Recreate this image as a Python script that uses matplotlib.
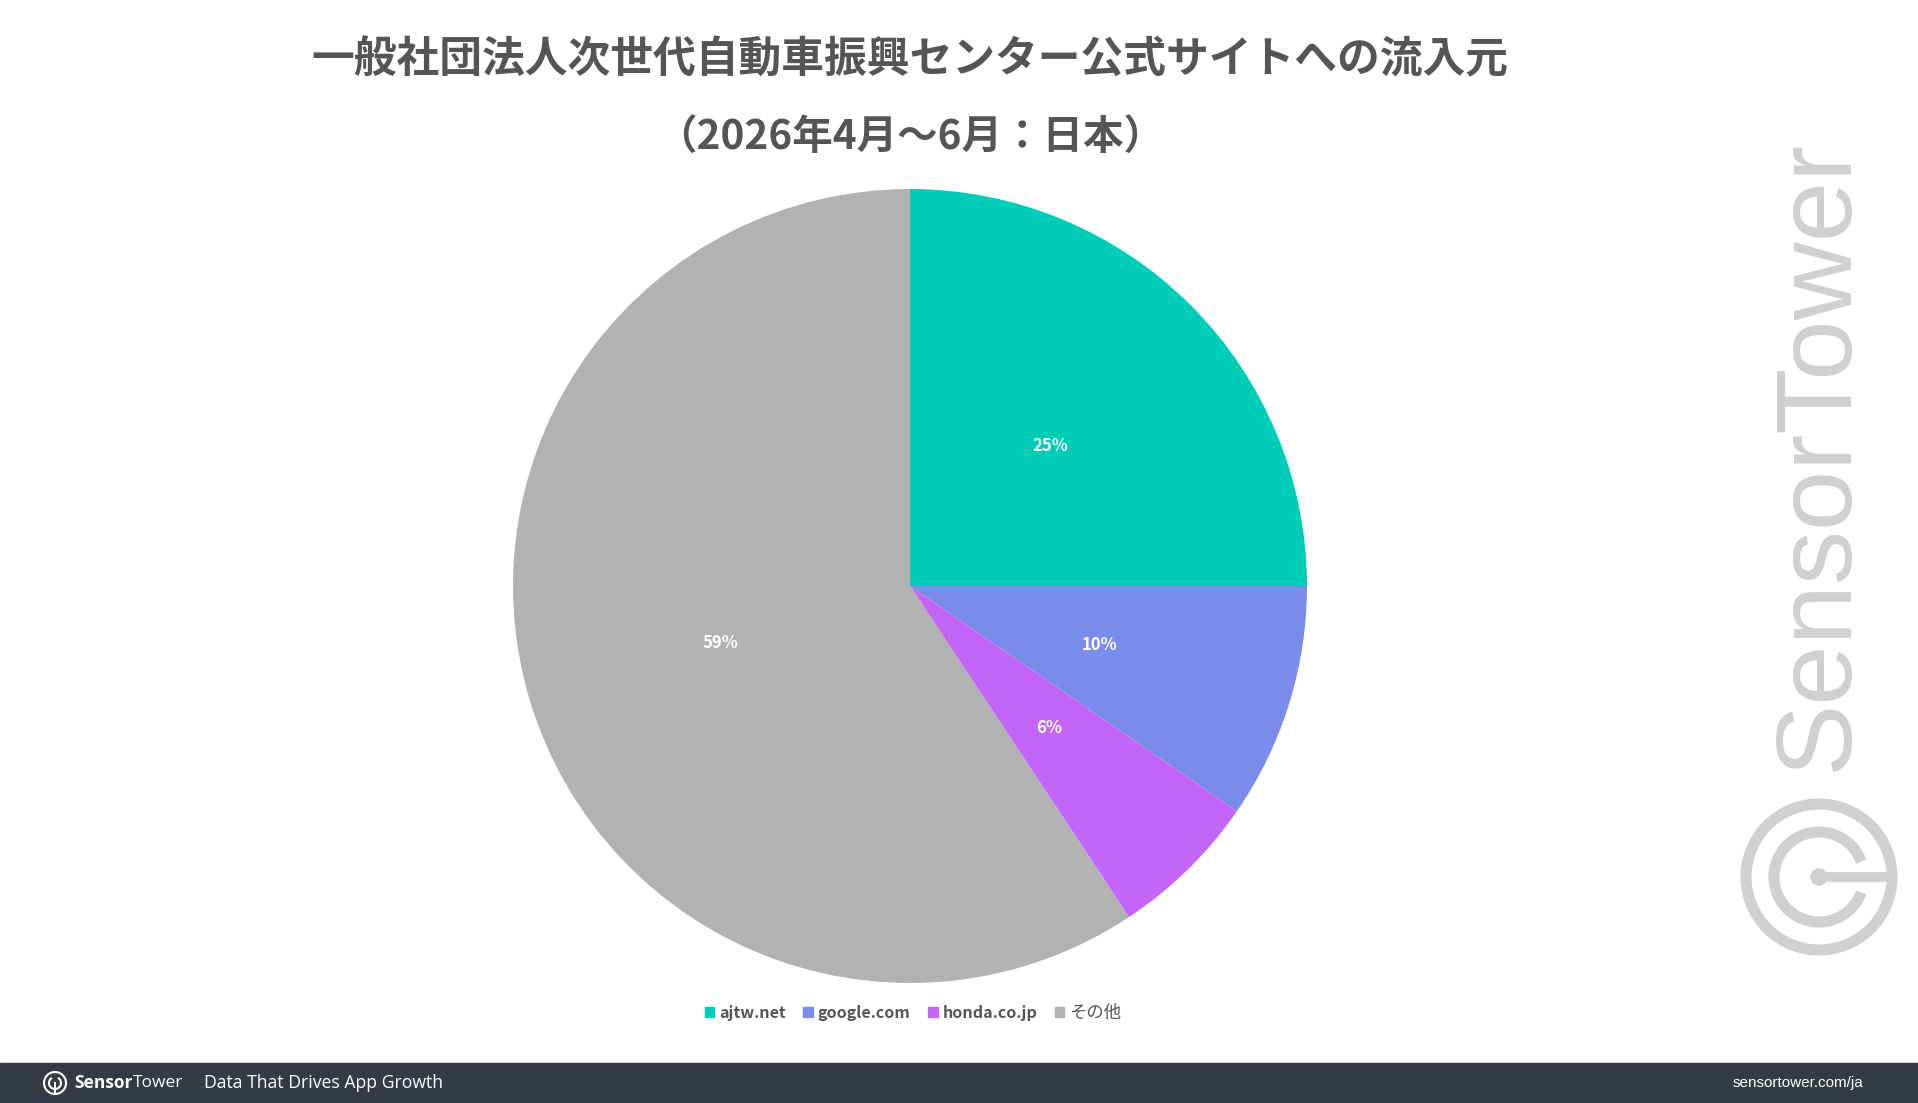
import matplotlib
matplotlib.use("Agg")
import matplotlib.pyplot as plt
from matplotlib.patches import Rectangle, Circle, Arc

plt.rcParams['font.family'] = ['Noto Sans CJK JP', 'DejaVu Sans']

title_line1 = "一般社団法人次世代自動車振興センター公式サイトへの流入元"
title_line2 = "（2026年4月～6月：日本）"
sources = ["ajtw.net", "google.com", "honda.co.jp", "その他"]
shares = [25.0, 9.6, 6.1, 59.3]
colors = ["#00CDB8", "#7A8DEA", "#C466FA", "#B2B2B2"]

W, H = 1918, 1103
f = plt.figure(figsize=(W / 100, H / 100), dpi=100)

# pie, center (910, 586) px, radius 397 px
cx, cy, r = 910, 586, 397
ax = f.add_axes([(cx - r) / W, (H - cy - r) / H, 2 * r / W, 2 * r / H])
wedges, texts, autotexts = ax.pie(shares, colors=colors, startangle=90, counterclock=False,
                                  autopct='%.0f%%', pctdistance=0.5, radius=1,
                                  textprops=dict(color="white", fontsize=12, fontweight="bold"))
ax.set_xlim(-1, 1)
ax.set_ylim(-1, 1)
ax.set_aspect('equal')
ax.axis('off')

# titles
f.text(910 / W, 1 - 59 / H, title_line1, ha='center', va='center', fontsize=30.8,
       fontweight='bold', color="#555555")
f.text(910 / W, 1 - 137 / H, title_line2, ha='center', va='center', fontsize=29.2,
       fontweight='bold', color="#555555")

# legend
handles = [Rectangle((0, 0), 1, 1, color=c) for c in colors]
leg = f.legend(handles, sources, loc='center', bbox_to_anchor=(913 / W, 1 - 1013 / H), ncol=4,
               frameon=False, handlelength=0.6, handleheight=0.6, handletextpad=0.3,
               columnspacing=1.1, prop=dict(weight='bold', size=11.5))
for t in leg.get_texts():
    t.set_color("#555555")
leg.get_texts()[-1].set_fontweight('normal')
leg.get_texts()[-1].set_fontsize(12.5)

# watermark
f.text(1819 / W, 1 - 456 / H, "SensorTower", rotation=90, ha='center', va='center',
       fontsize=78, color="#D0D0D0", family="Liberation Sans")
wm = f.add_axes([0, 0, 1, 1], zorder=-1)
wm.set_xlim(0, W)
wm.set_ylim(H, 0)
wm.axis('off')
lx, ly = 1819, 877
wm.add_patch(Circle((lx, ly), 73, fill=False, ec="#D0D0D0", lw=8))
wm.add_patch(Arc((lx, ly), 90, 90, theta1=20, theta2=340, ec="#D0D0D0", lw=8))
wm.plot([lx, lx + 73], [ly, ly], color="#D0D0D0", lw=7, solid_capstyle='butt')
wm.add_patch(Circle((lx, ly), 8, color="#D0D0D0"))

# footer bar
wm.add_patch(Rectangle((0, 1063), W, 40, color="#343A46", zorder=5))
fy = 1083
wm.add_patch(Circle((55, fy), 11, fill=False, ec="white", lw=1.5, zorder=6))
wm.add_patch(Arc((55, fy), 12, 12, theta1=-60, theta2=240, ec="white", lw=1.5, zorder=6))
wm.plot([55, 55], [fy, fy + 11], color="white", lw=1.5, zorder=6)
wm.text(74, fy, "Sensor", color="white", fontsize=12.5, fontweight='bold', va='center',
        zorder=6, family="Open Sans")
wm.text(133, fy, "Tower", color="white", fontsize=12.5, va='center', zorder=6, family="Open Sans")
wm.text(204, fy, "Data That Drives App Growth", color="white", fontsize=12.7, va='center',
        zorder=6, family="Open Sans")
wm.text(1863, fy, "sensortower.com/ja", color="white", fontsize=11, va='center', ha='right',
        zorder=6, family="Liberation Sans")

f.savefig("out.png", dpi=100)
